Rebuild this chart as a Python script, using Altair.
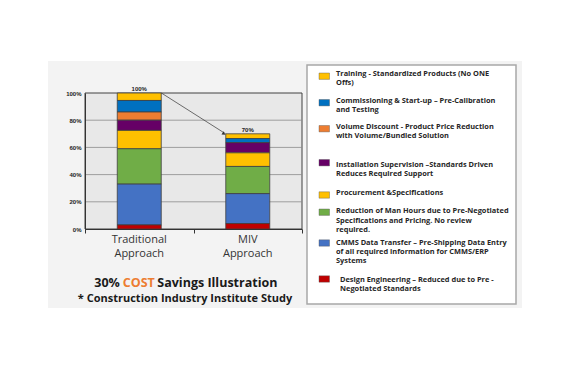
import altair as alt
import pandas as pd

# ---------------- data ----------------
categories = ["Traditional Approach", "MIV Approach"]
category_labels = ["Traditional\nApproach", "MIV\nApproach"]

components = [
    "Training",
    "Commissioning & Start-up",
    "Volume Discount",
    "Installation Supervision",
    "Procurement",
    "Reduction of Man Hours",
    "CMMS Data Transfer",
    "Design Engineering",
]
legend_texts = [
    "Training - Standardized Products (No ONE\nOffs)",
    "Commissioning & Start-up –  Pre-Calibration\nand Testing",
    "Volume Discount - Product Price Reduction\nwith Volume/Bundled Solution",
    "Installation Supervision –Standards Driven\nReduces Required Support",
    "Procurement &Specifications",
    "Reduction of Man Hours due to Pre-Negotiated\nSpecifications and Pricing.  No review\nrequired.",
    "CMMS Data Transfer – Pre-Shipping Data Entry\nof all required information for CMMS/ERP\nSystems",
    "Design Engineering – Reduced due to Pre -\nNegotiated Standards",
]
traditional_values = [5.5, 8.5, 6.0, 7.5, 13.5, 26.0, 30.0, 3.0]
miv_values = [3.5, 3.0, 0.0, 7.5, 10.0, 20.0, 22.0, 4.0]
colors = ["#FFC000", "#0070C0", "#ED7D31", "#660066", "#FFC000", "#70AD47", "#4472C4", "#C00000"]
y_ticks = [0, 20, 40, 60, 80, 100]
grid_values = [20, 40, 60, 80]

# ---------------- layout ----------------
W, H = 217, 136
OX, OY = 85, 93  # page position of plot origin
legend_line_y = [73.3, 100, 126, 164, 192.7, 210.7, 242.3, 279]
legend_swatch_y = [76.2, 102.7, 128.7, 162.7, 195, 212.2, 243, 279]
legend_text_x = [336, 336, 336, 336, 336, 336, 336, 340]

rows = []
n = len(components)
for i, comp in enumerate(components):
    for cat, vals in zip(categories, [traditional_values, miv_values]):
        if vals[i] > 0:
            rows.append({"category": cat, "component": comp, "value": vals[i], "order": n - i})
bars_df = pd.DataFrame(rows)

totals_df = pd.DataFrame({
    "category": categories,
    "total": [sum(traditional_values), sum(miv_values)],
})
totals_df["label"] = totals_df["total"].round().astype(int).astype(str) + "%"

xlab_df = pd.DataFrame({"category": categories, "label": category_labels})
grid_df = pd.DataFrame({"v": grid_values})
arrow_df = pd.DataFrame({"from": [categories[0]], "to": [categories[1]],
                         "y1": [sum(traditional_values)], "y2": [sum(miv_values)]})

legend_df = pd.DataFrame({
    "component": components,
    "text": legend_texts,
    "sy1": [y - OY - 3.2 for y in legend_swatch_y],
    "sy2": [y - OY + 3.2 for y in legend_swatch_y],
    "ty": [y - OY + 2.6 for y in legend_line_y],
    "tx": [x - OX for x in legend_text_x],
})

x_scale = alt.Scale(domain=categories, paddingInner=0, paddingOuter=0)
y_scale = alt.Scale(domain=[0, 100])
x_axis = alt.Axis(title=None, labels=False, ticks=True, tickBand="extent", tickSize=4,
                  tickColor="#333333", domainColor="#333333", grid=False, zindex=1)
y_axis = alt.Axis(title=None, values=y_ticks, labelExpr="datum.value + '%'", ticks=False,
                  domainColor="#333333", grid=False, labelFont="Liberation Sans",
                  labelFontSize=6, labelFontWeight="bold", labelColor="#222222",
                  labelPadding=4, zindex=1)

color_scale = alt.Scale(domain=components, range=colors)

base_blank = alt.Chart(pd.DataFrame({"a": [0]}))

backdrop = base_blank.mark_rect(fill="#f3f3f3").encode(
    x=alt.value(48 - OX), x2=alt.value(522 - OX), y=alt.value(61 - OY), y2=alt.value(308 - OY))
plot_bg = base_blank.mark_rect(fill="#e8e8e8", stroke="#404040", strokeWidth=1).encode(
    x=alt.value(0), x2=alt.value(W), y=alt.value(0), y2=alt.value(H))

grid = alt.Chart(grid_df).mark_rule(color="#8a8a8a", strokeWidth=0.8).encode(
    y=alt.Y("v:Q", scale=y_scale, axis=y_axis), x=alt.value(0), x2=alt.value(W))

bars = alt.Chart(bars_df).mark_bar(size=44, stroke="#404040", strokeWidth=0.8).encode(
    x=alt.X("category:N", scale=x_scale, axis=x_axis),
    y=alt.Y("value:Q", stack="zero", scale=y_scale, axis=y_axis),
    color=alt.Color("component:N", scale=color_scale, legend=None),
    order=alt.Order("order:Q", sort="ascending"),
)

totals = alt.Chart(totals_df).mark_text(font="Liberation Sans", fontSize=6, fontWeight="bold",
                                         baseline="bottom", dy=-1, color="#222222").encode(
    x=alt.X("category:N", scale=x_scale, axis=x_axis),
    y=alt.Y("total:Q", scale=y_scale, axis=y_axis),
    text="label:N")

arrow = alt.Chart(arrow_df).mark_rule(color="#333333", strokeWidth=0.7).encode(
    x=alt.X("from:N", bandPosition=0.704, scale=x_scale, axis=x_axis),
    x2=alt.X2("to:N", bandPosition=0.296),
    y=alt.Y("y1:Q", scale=y_scale, axis=y_axis),
    y2="y2:Q")
arrow_head = alt.Chart(arrow_df).mark_point(shape="triangle-right", filled=True, size=14,
                                            angle=32, color="#333333", opacity=1).encode(
    x=alt.X("to:N", bandPosition=0.28, scale=x_scale, axis=x_axis),
    y=alt.Y("y2:Q", scale=y_scale, axis=y_axis))

xlabels = alt.Chart(xlab_df).mark_text(font="Open Sans", fontSize=11, color="#333333",
                                       baseline="top", lineBreak="\n", lineHeight=13.6).encode(
    x=alt.X("category:N", scale=x_scale, axis=x_axis),
    y=alt.value(H + 5),
    text="label:N")

title_style = dict(font="Open Sans", fontSize=12.5, fontWeight="bold", baseline="alphabetic", align="left")
t1 = base_blank.mark_text(color="#1a1a1a", text="30%", **title_style).encode(
    x=alt.value(94.3 - OX), y=alt.value(287 - OY))
t2 = base_blank.mark_text(color="#ED7D31", text="COST", **title_style).encode(
    x=alt.value(122.8 - OX), y=alt.value(287 - OY))
t3 = base_blank.mark_text(color="#1a1a1a", text="Savings Illustration", **title_style).encode(
    x=alt.value(157.3 - OX), y=alt.value(287 - OY))
t4 = base_blank.mark_text(align="center", color="#1a1a1a", text="* Construction Industry Institute Study",
                          font="Open Sans", fontSize=11, fontWeight="bold", baseline="alphabetic").encode(
    x=alt.value(185 - OX), y=alt.value(302 - OY))

legend_box = base_blank.mark_rect(fill="white", stroke="#a8a8a8", strokeWidth=1.5).encode(
    x=alt.value(307 - OX), x2=alt.value(516 - OX), y=alt.value(65 - OY), y2=alt.value(304 - OY))

swatches = alt.Chart(legend_df).mark_rect(stroke="#555555", strokeWidth=0.4).encode(
    x=alt.value(319 - OX), x2=alt.value(329.5 - OX),
    y=alt.Y("sy1:Q", scale=None), y2="sy2:Q",
    color=alt.Color("component:N", scale=color_scale, legend=None))

legend_text = alt.Chart(legend_df).mark_text(font="Open Sans", fontSize=7.4, fontWeight="bold",
                                             color="#262626", align="left", baseline="alphabetic",
                                             lineBreak="\n", lineHeight=9.3).encode(
    x=alt.X("tx:Q", scale=None), y=alt.Y("ty:Q", scale=None), text="text:N")

chart = alt.layer(
    backdrop, plot_bg, grid, bars, totals, arrow, arrow_head, xlabels,
    t1, t2, t3, t4, legend_box, swatches, legend_text,
).properties(
    width=W, height=H,
    autosize=alt.AutoSizeParams(type="none"),
    padding={"left": OX - 8, "top": OY - 8, "right": 554 - (OX - 8) - W, "bottom": 354 - (OY - 8) - H},
    background="white",
).configure_view(stroke=None, fill=None)

chart.save("out.html", embed_options={"renderer": "svg", "actions": False})
